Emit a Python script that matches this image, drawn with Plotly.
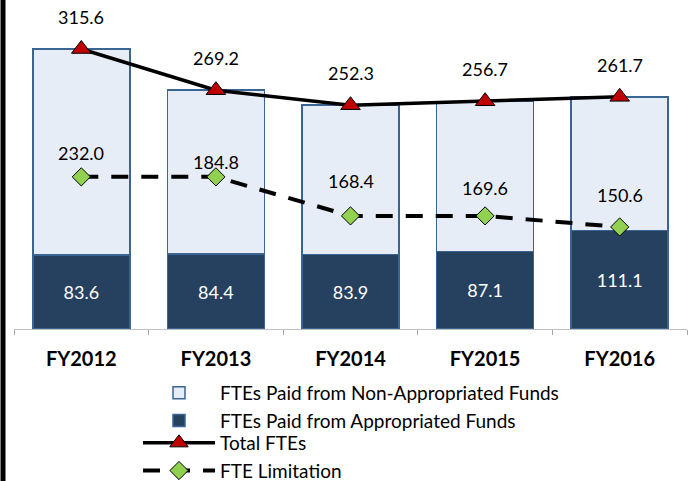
import plotly.graph_objects as go

years = ["FY2012", "FY2013", "FY2014", "FY2015", "FY2016"]
appropriated = [83.6, 84.4, 83.9, 87.1, 111.1]
non_appropriated = [232.0, 184.8, 168.4, 169.6, 150.6]
total_ftes = [315.6, 269.2, 252.3, 256.7, 261.7]
fte_limitation = [171.5, 171.5, 127.5, 127.5, 115.0]

# label nudges (px, positive = up) for the non-appropriated labels
non_app_label_shift = [-1, 10, -1, -11, -31]

FONT = "Lato"
LIGHT = "rgb(231,237,247)"
DARK = "rgb(38,64,96)"
EDGE = "rgb(58,100,148)"

fig = go.Figure()

fig.add_trace(go.Bar(
    x=years, y=appropriated, name="FTEs Paid from Appropriated Funds",
    marker=dict(color=DARK, line=dict(color=EDGE, width=1.5)),
    text=[f"{v:.1f}" for v in appropriated], textposition="inside",
    insidetextanchor="middle", textangle=0,
    textfont=dict(color="white", size=18, family=FONT),
    legendrank=2, legend="legend",
))
fig.add_trace(go.Bar(
    x=years, y=non_appropriated, name="FTEs Paid from Non-Appropriated Funds",
    marker=dict(color=LIGHT, line=dict(color=EDGE, width=1.5)),
    legendrank=1, legend="legend",
))
fig.add_trace(go.Scatter(
    x=years, y=total_ftes, name="Total FTEs", mode="lines+markers",
    line=dict(color="black", width=3.5),
    marker=dict(symbol="triangle-up", size=17, color="rgb(192,0,0)",
                line=dict(color="black", width=1)),
    legendrank=3, legend="legend2",
))
fig.add_trace(go.Scatter(
    x=years, y=fte_limitation, name="FTE Limitation", mode="lines+markers",
    line=dict(color="black", width=4, dash="17px,13px"),
    marker=dict(symbol="diamond", size=14, color="rgb(146,208,80)",
                line=dict(color="black", width=1)),
    legendrank=4, legend="legend2",
))

annotations = []
for yr, t in zip(years, total_ftes):
    annotations.append(dict(x=yr, y=t, text=f"{t:.1f}", showarrow=False,
                            yshift=32, font=dict(size=18, family=FONT, color="black")))
for yr, a, n, s in zip(years, appropriated, non_appropriated, non_app_label_shift):
    annotations.append(dict(x=yr, y=a + n / 2, text=f"{n:.1f}", showarrow=False,
                            yshift=s, font=dict(size=18, family=FONT, color="black")))

PLOT_H = 481 - 10 - 152
legend_style = dict(
    x=(138 - 14) / 673, xanchor="left", yanchor="top",
    font=dict(size=19, family=FONT), tracegroupgap=0, traceorder="normal",
    bgcolor="rgba(0,0,0,0)", itemwidth=72,
)
fig.update_layout(
    width=688, height=481,
    margin=dict(l=14, r=1, t=10, b=152, autoexpand=False),
    barmode="stack", bargap=0.28,
    plot_bgcolor="white", paper_bgcolor="white",
    font=dict(family=FONT, size=18, color="black"),
    annotations=annotations,
    showlegend=True,
    legend=dict(legend_style, y=-45 / PLOT_H),
    legend2=dict(legend_style, y=-95 / PLOT_H),
    shapes=[dict(type="line", xref="paper", yref="paper",
                 x0=(3 - 14) / 673, x1=(3 - 14) / 673, y0=-0.5, y1=1.05,
                 line=dict(color="black", width=5))],
)
fig.update_xaxes(
    showline=True, linecolor="rgb(191,191,191)", linewidth=1,
    ticks="outside", tickson="boundaries", ticklen=5, tickcolor="rgb(166,166,166)",
    tickfont=dict(size=20, family=FONT, color="black", weight="bold"),
    ticklabelstandoff=12, automargin=False,
    showgrid=False, zeroline=False,
)
fig.update_yaxes(visible=False, range=[0, 359.6], showgrid=False, zeroline=False,
                 automargin=False)

fig.write_html(
    "out.html",
    config={"displayModeBar": False},
    post_script="document.body.style.margin='0';document.body.style.overflow='hidden';",
)
